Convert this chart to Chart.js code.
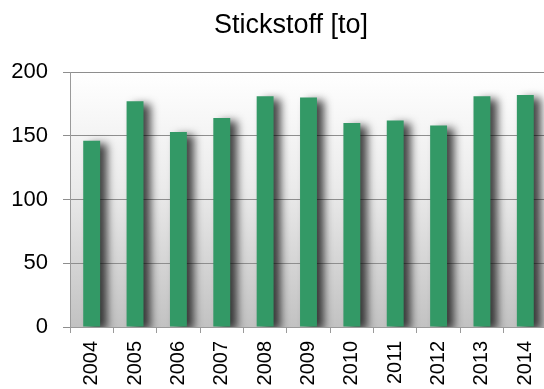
<!DOCTYPE html>
<html>
<head>
<meta charset="utf-8">
<script src="https://cdn.jsdelivr.net/npm/chart.js@4/dist/chart.umd.min.js"></script>
<style>
  html, body { margin: 0; padding: 0; background: #fff; overflow: hidden; }
  #wrap { position: relative; width: 547px; height: 389px; }
</style>
</head>
<body>
<div id="wrap"><canvas id="chart"></canvas></div>
<script>
// Stickstoff per year, tonnes
const years = ["2004", "2005", "2006", "2007", "2008", "2009", "2010", "2011", "2012", "2013", "2014"];
const stickstoff = [146, 177, 153, 164, 181, 180, 160, 162, 158, 181, 182];
const yTicks = [0, 50, 100, 150, 200];
const chartTitle = "Stickstoff [to]";

const FONT = "'Liberation Sans', Arial, sans-serif";

// grey fade behind the bars
const plotBackground = {
  id: "plotBackground",
  beforeDraw(chart) {
    const { ctx, chartArea: a } = chart;
    const g = ctx.createLinearGradient(0, a.top, 0, a.bottom);
    g.addColorStop(0, "#ffffff");
    g.addColorStop(0.45, "#ebebeb");
    g.addColorStop(1, "#c2c2c2");
    ctx.save();
    ctx.fillStyle = g;
    ctx.fillRect(a.left, a.top, a.right - a.left, a.bottom - a.top);
    ctx.restore();
  }
};

// soft drop shadow on the bars (no border, so the bar isn't clipped)
const barShadow = {
  id: "barShadow",
  beforeDatasetsDraw(chart) {
    const ctx = chart.ctx;
    ctx.save();
    ctx.shadowColor = "rgba(0,0,0,0.72)";
    ctx.shadowBlur = 9;
    ctx.shadowOffsetX = 7;
    ctx.shadowOffsetY = 3;
  },
  afterDatasetsDraw(chart) {
    chart.ctx.restore();
  }
};

// title sits a bit right of the canvas centre
const titleText = {
  id: "titleText",
  afterDraw(chart) {
    const ctx = chart.ctx;
    ctx.save();
    ctx.font = "27px " + FONT;
    ctx.fillStyle = "#000";
    ctx.textAlign = "center";
    ctx.textBaseline = "middle";
    ctx.fillText(chartTitle, 291, 26);
    ctx.restore();
  }
};

new Chart(document.getElementById("chart"), {
  type: "bar",
  data: {
    labels: years,
    datasets: [{
      data: stickstoff,
      backgroundColor: "#339966",
      borderWidth: 0,
      barPercentage: 0.39,
      categoryPercentage: 1
    }]
  },
  options: {
    responsive: true,
    maintainAspectRatio: false,
    animation: false,
    layout: { padding: { top: 72, left: 11, right: 0, bottom: 0 } },
    plugins: {
      legend: { display: false },
      title: { display: false },
      tooltip: { enabled: false }
    },
    scales: {
      x: {
        afterFit: (axis) => {
          axis.height = 62;
          axis.paddingLeft = 0;
          axis.paddingRight = 0;
        },
        grid: {
          display: true,
          drawOnChartArea: false,
          color: "#9a9a9a",
          tickLength: 6
        },
        border: { color: "#9a9a9a" },
        ticks: {
          color: "#000",
          font: { family: FONT, size: 20 },
          minRotation: 90,
          maxRotation: 90,
          padding: 8,
          autoSkip: false
        }
      },
      y: {
        min: 0,
        max: 200,
        afterBuildTicks: (axis) => { axis.ticks = yTicks.map(v => ({ value: v })); },
        afterFit: (axis) => { axis.width = 59; },
        grid: {
          color: "#8e8e8e",
          tickLength: 7
        },
        border: { color: "#9a9a9a" },
        ticks: {
          color: "#000",
          font: { family: FONT, size: 22 },
          padding: 15
        }
      }
    }
  },
  plugins: [plotBackground, barShadow, titleText]
});
</script>
</body>
</html>
